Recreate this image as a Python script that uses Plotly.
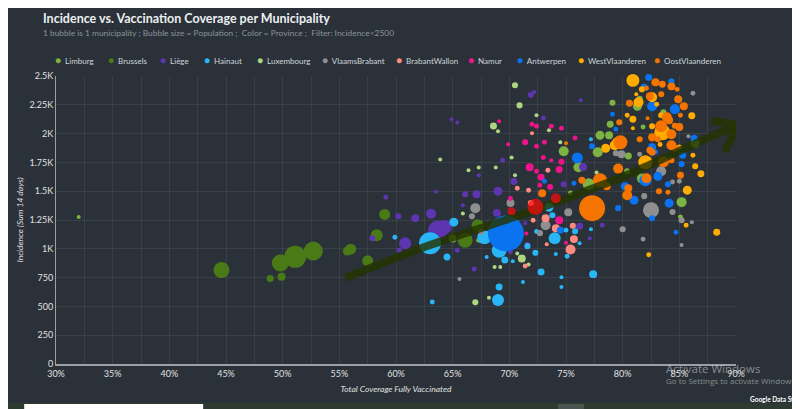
import plotly.graph_objects as go

# === Data (coverage %, incidence sum 14 days, population in thousands) ===
provinces = ['Limburg', 'Brussels', 'Liège', 'Hainaut', 'Luxembourg', 'VlaamsBrabant',
             'BrabantWallon', 'Namur', 'Antwerpen', 'WestVlaanderen', 'OostVlaanderen']

limburg_cov = [32.0, 74.8, 76.1, 79.1, 81.3, 77.8, 78.0, 78.8, 78.9, 83.6, 86.4, 85.2, 80.5, 81.7,
               85.1, 80.4, 81.8, 81.5, 65.0, 67.3, 75.4, 77.0]
limburg_inc = [1277, 1847, 1708, 2268, 2237, 1838, 1985, 1985, 2081, 2185, 1916, 1405, 1806, 1610,
               1277, 1673, 2058, 2303, 1090, 1075, 1485, 1560]
limburg_pop = [3.7, 41, 41, 15, 33, 41, 33, 26, 20, 15, 33, 41, 20, 41, 10, 15, 10, 15, 26, 10, 10, 59]

brussels_cov = [44.6, 48.9, 49.9, 49.8, 51.1, 52.7, 55.7, 56.0, 57.5, 58.3, 59.0, 66.1, 67.2]
brussels_inc = [815, 743, 757, 876, 930, 980, 980, 997, 896, 1118, 1298, 1075, 1205]
brussels_pop = [105, 20, 26, 118, 198, 148, 33, 50, 50, 59, 50, 92, 59]

liege_cov = [59.1, 60.2, 61.7, 63.1, 60.8, 60.3, 57.9, 63.7, 64.3, 63.5, 66.1, 67.1, 69.0, 67.3,
             65.9, 68.9, 66.9, 65.4, 70.4, 69.4, 76.2, 77.1, 76.5, 64.9, 65.4, 73.0, 71.9, 72.2,
             76.3, 74.8, 78.2, 71.6, 70.1, 71.4]
liege_inc = [1448, 1283, 1266, 1305, 1049, 988, 1092, 1160, 1190, 1496, 1474, 1474, 1500, 1639,
             1379, 1312, 824, 988, 1584, 1769, 1196, 1092, 1710, 2124, 2096, 2135, 2338, 2362,
             2289, 1561, 1205, 1032, 974, 1222]
liege_pop = [10, 15, 26, 41, 59, 10, 15, 160, 80, 6.6, 15, 26, 33, 3.7,
             6.6, 26, 10, 10, 20, 10, 20, 6.6, 26, 6.6, 6.6, 10, 15, 6.6,
             3.7, 15, 10, 15, 10, 6.6]

hainaut_cov = [63.0, 65.1, 59.9, 64.5, 63.2, 69.0, 69.1, 69.1, 69.6, 68.0, 71.2, 72.8, 74.0, 74.6,
               74.6, 77.4, 72.3, 72.4, 70.3, 74.1, 75.1, 76.2, 77.2, 75.8, 75.0, 71.6, 67.8, 73.5,
               77.2, 73.8]
hainaut_inc = [1049, 1231, 1101, 928, 538, 555, 668, 988, 902, 928, 711, 798, 1092, 668,
               754, 780, 965, 1150, 893, 954, 936, 1049, 1170, 1153, 1162, 1023, 1100, 1361,
               1951, 1292]
hainaut_pop = [198, 33, 10, 20, 10, 59, 20, 92, 20, 6.6, 6.6, 20, 59, 6.6,
               3.7, 26, 15, 10, 3.7, 6.6, 10, 6.6, 6.6, 15, 10, 15, 80, 33,
               3.7, 15]

luxembourg_cov = [71.1, 63.9, 66.4, 67.3, 68.8, 65.9, 68.7, 68.2, 67.0, 70.2, 70.5, 70.9, 68.6, 69.0,
                  73.5, 72.4, 74.5, 69.2, 70.5, 70.7, 77.7, 71.7]
luxembourg_inc = [916, 1775, 1682, 1705, 1705, 1306, 843, 575, 535, 1792, 1639, 2245, 2066, 2020,
                  2029, 2159, 1925, 843, 2419, 960, 1662, 864]
luxembourg_pop = [26, 3.7, 6.6, 3.7, 3.7, 6.6, 6.6, 3.7, 15, 6.6, 6.6, 15, 20, 6.6,
                  6.6, 3.7, 6.6, 3.7, 15, 6.6, 3.7, 3.7]

vlbrabant_cov = [67.0, 66.7, 67.5, 70.1, 73.2, 75.2, 65.6, 72.7, 80.0, 81.8, 82.5, 81.9, 84.4, 86.1,
                 85.2, 85.2, 86.2, 85.8, 83.4, 85.0, 84.4, 79.9, 79.4, 81.5]
vlbrabant_inc = [1353, 1283, 1147, 1398, 1205, 1318, 737, 1136, 1170, 1084, 1335, 1457, 1320, 1231,
                 1032, 1248, 2350, 1977, 1673, 1587, 1580, 1821, 1830, 1821]
vlbrabant_pop = [41, 15, 15, 26, 41, 26, 6.6, 15, 15, 10, 105, 15, 15, 6.6,
                 6.6, 15, 10, 6.6, 41, 10, 10, 26, 15, 10]

bwallon_cov = [75.4, 75.7, 74.1, 73.2, 72.1, 71.4, 70.7, 73.4, 72.0, 71.7, 73.3, 71.9, 75.6]
bwallon_inc = [994, 1084, 1179, 1266, 1248, 850, 1526, 1682, 2003, 1509, 1040, 1398, 1200]
bwallon_pop = [41, 26, 26, 26, 10, 10, 10, 10, 6.6, 10, 6.6, 15, 15]

namur_cov = [73.0, 73.7, 71.8, 72.4, 72.8, 72.7, 73.6, 74.4, 74.6, 74.4, 70.1, 69.1, 69.9, 71.4,
             72.4, 73.1, 72.0, 72.4, 73.7, 74.6, 75.8, 71.5, 75.0]
namur_inc = [1792, 1769, 1708, 1673, 1621, 1552, 1537, 1688, 1755, 1248, 1437, 2107, 1907, 1925,
             1890, 1925, 2081, 2063, 2063, 2046, 1962, 1133, 1052]
namur_pop = [10, 6.6, 26, 10, 20, 10, 15, 20, 15, 26, 10, 6.6, 6.6, 15,
             10, 10, 10, 10, 10, 10, 10, 3.7, 3.7]

antwerpen_cov = [69.7, 76.0, 82.3, 84.3, 81.9, 82.6, 84.6, 79.1, 79.4, 86.3, 82.6, 77.3, 85.3, 85.2,
                 82.0, 83.1, 84.0, 80.2, 84.1, 81.0, 79.6, 82.6, 84.7, 75.7, 73.1, 74.5, 82.9, 79.6]
antwerpen_inc = [1133, 1789, 2488, 2454, 2402, 2237, 2211, 2168, 2037, 1959, 1881, 1890, 1812, 1735,
                 1595, 1630, 1561, 1543, 1396, 1422, 1353, 1266, 1144, 1569, 1587, 1162, 1841, 1951]
antwerpen_pop = [531, 50, 20, 15, 20, 41, 41, 10, 10, 20, 26, 15, 20, 15,
                 59, 33, 15, 26, 33, 33, 15, 15, 10, 10, 10, 20, 10, 15]

westvl_cov = [80.9, 81.7, 82.6, 81.2, 81.4, 80.4, 80.9, 82.6, 79.3, 78.5, 83.5, 82.0, 86.2, 86.4,
              86.9, 85.7, 85.6, 88.3, 82.3, 86.1, 83.3, 85.0, 83.4, 83.0, 80.9, 79.3]
westvl_inc = [2462, 2384, 2315, 2341, 2272, 2159, 2124, 2063, 1899, 1873, 2011, 1751, 1812, 1717,
              1652, 1509, 1205, 1144, 949, 2155, 1905, 1884, 2159, 2254, 2046, 1942]
westvl_pop = [69, 15, 41, 6.6, 41, 10, 20, 15, 41, 33, 105, 80, 10, 15,
              20, 33, 10, 20, 10, 20, 10, 10, 15, 10, 3.7, 6.6]

oostvl_cov = [77.3, 78.0, 78.6, 76.4, 72.9, 82.9, 83.5, 84.3, 84.8, 83.4, 84.9, 85.4, 80.6, 83.9,
              84.1, 85.1, 79.7, 83.4, 85.0, 84.6, 79.8, 82.6, 83.1, 84.3, 84.3, 84.6, 82.4, 82.6,
              83.6, 84.3, 85.1, 82.1, 79.6, 80.4, 80.5, 83.2, 81.5, 75.0, 82.2, 82.1, 82.4, 84.0]
oostvl_inc = [1353, 1595, 1543, 1595, 1483, 2445, 2428, 2410, 2384, 2341, 2298, 2237, 2263, 2142,
              2115, 2159, 2098, 2063, 2058, 2068, 1925, 1968, 1951, 1994, 1899, 1873, 1855, 1838,
              1755, 1769, 1639, 1613, 1696, 1465, 1526, 1500, 1951, 1916, 2133, 2393, 2325, 1491]
oostvl_pop = [277, 80, 26, 20, 26, 26, 20, 26, 10, 15, 26, 26, 20, 41,
              26, 10, 15, 59, 26, 15, 80, 26, 15, 41, 41, 20, 20, 20,
              50, 15, 20, 41, 41, 41, 26, 15, 15, 3.7, 6.6, 10, 26, 10]

# bubbles that show up red where the hand-drawn arrow crosses them
red_cov = [72.3, 74.1, 70.2]
red_inc = [1364, 1439, 1327]
red_pop = [105, 41, 26]

# hand-drawn arrow (shaft, then the two strokes of the head)
arrow_cov = [55.5, 63.0, 69.6, 74.6, 79.9, 82.3, 86.1, 88.7, 90.0, None, 87.8, 90.1, None, 90.0, 89.0]
arrow_inc = [746, 1032, 1248, 1422, 1621, 1725, 1899, 2011, 2055, None, 2110, 2078, None, 2045, 1840]

y_ticks = [0, 250, 500, 750, 1000, 1250, 1500, 1750, 2000, 2250, 2500]
y_ticktext = ['0', '250', '500', '750', '1K', '1.25K', '1.5K', '1.75K', '2K', '2.25K', '2.5K']

series = {
    'Limburg': (limburg_cov, limburg_inc, limburg_pop),
    'Brussels': (brussels_cov, brussels_inc, brussels_pop),
    'Liège': (liege_cov, liege_inc, liege_pop),
    'Hainaut': (hainaut_cov, hainaut_inc, hainaut_pop),
    'Luxembourg': (luxembourg_cov, luxembourg_inc, luxembourg_pop),
    'VlaamsBrabant': (vlbrabant_cov, vlbrabant_inc, vlbrabant_pop),
    'BrabantWallon': (bwallon_cov, bwallon_inc, bwallon_pop),
    'Namur': (namur_cov, namur_inc, namur_pop),
    'Antwerpen': (antwerpen_cov, antwerpen_inc, antwerpen_pop),
    'WestVlaanderen': (westvl_cov, westvl_inc, westvl_pop),
    'OostVlaanderen': (oostvl_cov, oostvl_inc, oostvl_pop),
}

colors = {
    'Limburg': '#7cb342',
    'Brussels': '#4a7a16',
    'Liège': '#5e35b1',
    'Hainaut': '#29b6f6',
    'Luxembourg': '#aed581',
    'VlaamsBrabant': '#8f8f8f',
    'BrabantWallon': '#ff8a80',
    'Namur': '#f0148c',
    'Antwerpen': '#0a74f0',
    'WestVlaanderen': '#ffab00',
    'OostVlaanderen': '#f57400',
}

# === Layout helpers ===
# the page body has an 8 px margin, so the figure starts at (8, 8) in the window
OFF = 8
W, H = 800, 409
L, T = 52 - OFF, 76 - OFF          # plot area left/top in figure px
R, B = W - (736 - OFF), H - (364 - OFF)
PW, PH = W - L - R, H - T - B
PAD = 6                            # annotation text sits a few px right of its anchor


def px(x):
    # window x pixel -> paper coordinate
    return (x - OFF - L) / PW


def py(y):
    # window y pixel -> paper coordinate
    return (H - B - (y - OFF)) / PH


max_pop = max(max(v[2]) for v in series.values())
sizeref = 2.0 * max_pop / (36 ** 2)

BG = '#2a3138'
GRID = 'rgba(255,255,255,0.07)'
FONT = 'Lato'

fig = go.Figure()

for name in provinces:
    cov, inc, pop = series[name]
    fig.add_trace(go.Scatter(
        x=cov, y=inc, mode='markers', name=name, showlegend=False,
        marker=dict(size=pop, sizemode='area', sizeref=sizeref, sizemin=2,
                    color=colors[name], opacity=1, line=dict(width=0)),
        cliponaxis=False,
    ))

# === Arrow ===
fig.add_trace(go.Scatter(
    x=arrow_cov, y=arrow_inc, mode='lines', showlegend=False, hoverinfo='skip',
    line=dict(color='rgba(36,52,0,0.82)', width=8, shape='spline'),
    connectgaps=False, cliponaxis=False,
))

fig.add_trace(go.Scatter(
    x=red_cov, y=red_inc, mode='markers', showlegend=False,
    marker=dict(size=red_pop, sizemode='area', sizeref=sizeref, color='#ff0a0a', line=dict(width=0)),
))

# === Texts ===
annotations = [
    dict(text='<b>Incidence vs. Vaccination Coverage per Municipality</b>',
         x=px(43 - PAD), y=py(19), font=dict(size=12.5, color='#eceff1', family=FONT)),
    dict(text='1 bubble is 1 municipality ; Bubble size = Population ;  Color = Province ;  Filter: Incidence<2500',
         x=px(43 - PAD), y=py(33), font=dict(size=8.4, color='#8a939a', family=FONT)),
    dict(text='Activate Windows', x=px(670 - PAD), y=py(368),
         font=dict(size=11.5, color='rgba(255,255,255,0.45)', family='Open Sans')),
    dict(text='Go to Settings to activate Windows.', x=px(670 - PAD), y=py(380),
         font=dict(size=8, color='rgba(255,255,255,0.45)', family='Open Sans')),
    dict(text='<b>Google Data Studio</b>', x=px(754 - PAD), y=py(399),
         font=dict(size=6.5, color='#ffffff', family=FONT)),
]

legend_x = [58, 111, 164, 208, 261, 327, 401, 473, 523, 584, 661]
for name, lx in zip(provinces, legend_x):
    annotations.append(dict(
        text=f'<span style="color:{colors[name]};font-size:10px">●</span>  {name}',
        x=px(lx - 3 - PAD), y=py(60), font=dict(size=8, color='#cfd6db', family=FONT)))

for a in annotations:
    a.update(xref='paper', yref='paper', xanchor='left', yanchor='middle', showarrow=False)

# bottom strip of the captured page
shapes = [
    dict(type='rect', xref='paper', yref='paper', x0=px(0), x1=px(810), y0=py(403), y1=py(420),
         fillcolor='#2c3a30', line=dict(width=0), layer='below'),
    dict(type='rect', xref='paper', yref='paper', x0=px(20), x1=px(200), y0=py(404), y1=py(420),
         fillcolor='#ffffff', line=dict(width=0)),
    dict(type='rect', xref='paper', yref='paper', x0=px(557), x1=px(583), y0=py(404), y1=py(420),
         fillcolor='#4a5450', line=dict(width=0)),
]

fig.update_layout(
    width=W, height=H,
    margin=dict(l=L, r=R, t=T, b=B),
    paper_bgcolor=BG, plot_bgcolor=BG,
    font=dict(family=FONT, color='#e0e0e0', size=9),
    annotations=annotations,
    shapes=shapes,
    xaxis=dict(
        range=[30, 90], tick0=30, dtick=5, ticksuffix='%',
        showgrid=True, gridcolor=GRID, zeroline=False,
        minor=dict(dtick=2.5, showgrid=True, gridcolor=GRID),
        showline=True, linecolor='#9aa0a4', linewidth=2,
        tickfont=dict(size=9, color='#e0e0e0'),
        title=dict(text='<i>Total Coverage Fully Vaccinated</i>', standoff=8,
                   font=dict(size=8.5, color='#e0e0e0')),
        fixedrange=True,
    ),
    yaxis=dict(
        range=[0, 2500], tickvals=y_ticks, ticktext=y_ticktext,
        showgrid=True, gridcolor=GRID, zeroline=False,
        showline=True, linecolor='#9aa0a4', linewidth=1,
        tickfont=dict(size=9, color='#e0e0e0'),
        title=dict(text='<i>Incidence (Sum 14 days)</i>', standoff=4,
                   font=dict(size=8.5, color='#e0e0e0')),
        fixedrange=True,
    ),
    showlegend=False,
)

fig.write_html("out.html")
